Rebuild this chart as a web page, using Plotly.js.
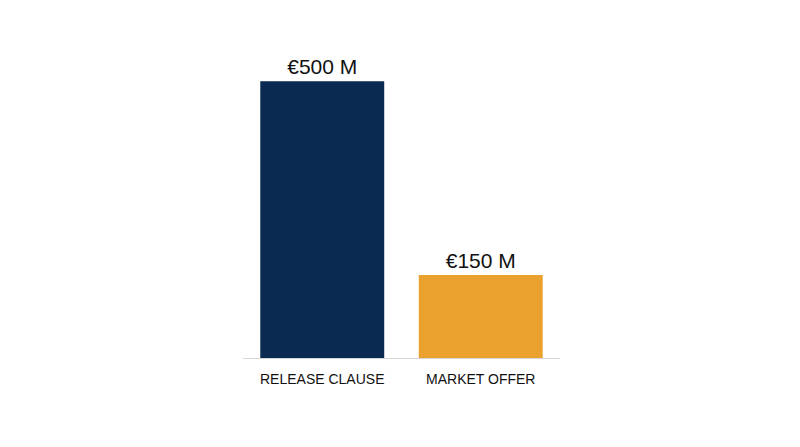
<!DOCTYPE html>
<html>
<head>
<meta charset="utf-8">
<script src="https://cdn.plot.ly/plotly-3.0.1.min.js"></script>
<style>
  html, body { margin: 0; padding: 0; background: #ffffff; }
  #chart { width: 800px; height: 447px; }
</style>
</head>
<body>
<div id="chart"></div>
<script>
// values (millions of euros)
const categories = ['RELEASE CLAUSE', 'MARKET OFFER'];
const amounts = [500, 150];
const barLabels = ['€500 M', '€150 M'];
const barColors = ['#0b2a52', '#eba12d'];

const trace = {
    type: 'bar',
    x: categories,
    y: amounts,
    text: barLabels,
    textposition: 'outside',
    cliponaxis: false,
    textfont: { family: 'Liberation Sans, Arial, sans-serif', size: 21, color: '#111111' },
    marker: { color: barColors, line: { width: 0 } },
    hoverinfo: 'skip'
};

const layout = {
    width: 800, height: 447,
    margin: { l: 243, r: 240, t: 48, b: 89 },
    paper_bgcolor: '#ffffff', plot_bgcolor: '#ffffff',
    bargap: 0.218,
    showlegend: false,
    font: { family: 'Liberation Sans, Arial, sans-serif', color: '#111111' },
    xaxis: {
        showline: true, linecolor: '#d6d6d6', linewidth: 1,
        ticks: 'outside', ticklen: 8, tickcolor: 'rgba(0,0,0,0)',
        tickfont: { size: 14, color: '#111111' },
        showgrid: false, zeroline: false, fixedrange: true
    },
    yaxis: {
        range: [0, 560], visible: false, showgrid: false, zeroline: false, fixedrange: true
    }
};

Plotly.newPlot('chart', [trace], layout, { displayModeBar: false, staticPlot: true });
</script>
</body>
</html>
